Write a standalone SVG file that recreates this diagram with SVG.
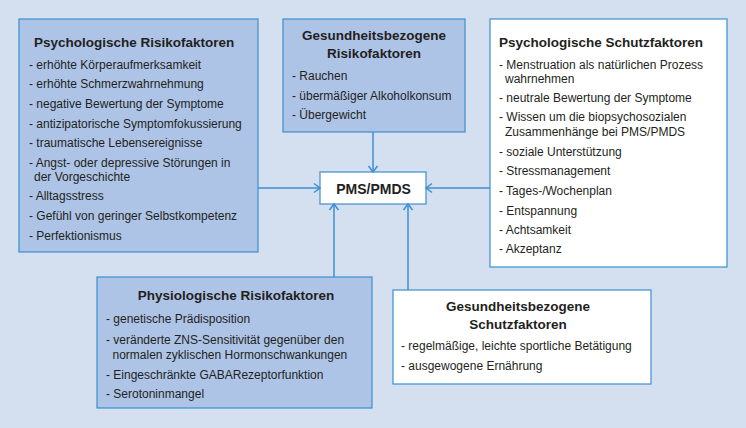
<svg xmlns="http://www.w3.org/2000/svg" width="746" height="428" viewBox="0 0 746 428">
<style>
.bg{fill:#d4dff0}
.blue{fill:#adc4e7;stroke:#3d8fd0;stroke-width:1.2}
.white{fill:#ffffff;stroke:#3d8fd0;stroke-width:1.2}
.t{font-family:"Liberation Sans",Arial,sans-serif;font-size:13.5px;font-weight:bold;fill:#231f20}
.c{text-anchor:middle}
.i{font-family:"Liberation Sans",Arial,sans-serif;font-size:12px;fill:#231f20}
.p{font-family:"Liberation Sans",Arial,sans-serif;font-size:14px;font-weight:bold;fill:#231f20;text-anchor:middle}
.conn line{stroke:#3d8fd0;stroke-width:1.5;fill:none;marker-end:url(#arr)}
</style>
<defs>
<marker id="arr" markerUnits="userSpaceOnUse" markerWidth="12" markerHeight="12" viewBox="-8 -6 10 12" refX="0" refY="0" orient="auto">
<path d="M-6,-4.5 L0,0 L-6,4.5" fill="none" stroke="#3d8fd0" stroke-width="1.5"/>
</marker>
</defs>
<rect class="bg" x="0" y="0" width="746" height="428"/>

<g id="psych-risiko">
<rect class="blue" x="19" y="19" width="239" height="233"/>
<text class="t" x="34" y="47">Psychologische Risikofaktoren</text>
<text class="i" x="29" y="68.5">- erhöhte Körperaufmerksamkeit</text>
<text class="i" x="29" y="88">- erhöhte Schmerzwahrnehmung</text>
<text class="i" x="29" y="108">- negative Bewertung der Symptome</text>
<text class="i" x="29" y="127.5">- antizipatorische Symptomfokussierung</text>
<text class="i" x="29" y="147">- traumatische Lebensereignisse</text>
<text class="i" x="29" y="167">- Angst- oder depressive Störungen in</text>
<text class="i" x="34" y="181">der Vorgeschichte</text>
<text class="i" x="29" y="200">- Alltagsstress</text>
<text class="i" x="29" y="220">- Gefühl von geringer Selbstkompetenz</text>
<text class="i" x="29" y="240">- Perfektionismus</text>
</g>

<g id="gesund-risiko">
<rect class="blue" x="283" y="19" width="182" height="113"/>
<text class="t c" x="374" y="39.5">Gesundheitsbezogene</text>
<text class="t c" x="374" y="57.5">Risikofaktoren</text>
<text class="i" x="292" y="80">- Rauchen</text>
<text class="i" x="292" y="99.5">- übermäßiger Alkoholkonsum</text>
<text class="i" x="292" y="119">- Übergewicht</text>
</g>

<g id="psych-schutz">
<rect class="white" x="490" y="19" width="237" height="248"/>
<text class="t" x="499" y="47">Psychologische Schutzfaktoren</text>
<text class="i" x="499" y="68.5">- Menstruation als natürlichen Prozess</text>
<text class="i" x="505" y="82.5">wahrnehmen</text>
<text class="i" x="499" y="101.5">- neutrale Bewertung der Symptome</text>
<text class="i" x="499" y="121">- Wissen um die biopsychosozialen</text>
<text class="i" x="505" y="135.5">Zusammenhänge bei PMS/PMDS</text>
<text class="i" x="499" y="155.5">- soziale Unterstützung</text>
<text class="i" x="499" y="175">- Stressmanagement</text>
<text class="i" x="499" y="195">- Tages-/Wochenplan</text>
<text class="i" x="499" y="214.5">- Entspannung</text>
<text class="i" x="499" y="233.5">- Achtsamkeit</text>
<text class="i" x="499" y="253">- Akzeptanz</text>
</g>

<g id="pms">
<rect class="white" x="320" y="172" width="106" height="32"/>
<text class="p" x="373.5" y="193.5">PMS/PMDS</text>
</g>

<g id="physio-risiko">
<rect class="blue" x="97" y="277" width="275" height="131"/>
<text class="t c" x="236" y="299.5">Physiologische Risikofaktoren</text>
<text class="i" x="106" y="322.5">- genetische Prädisposition</text>
<text class="i" x="106" y="343.5">- veränderte ZNS-Sensitivität gegenüber den</text>
<text class="i" x="112.5" y="359">normalen zyklischen Hormonschwankungen</text>
<text class="i" x="106" y="378.5">- Eingeschränkte GABARezeptorfunktion</text>
<text class="i" x="106" y="398">- Serotoninmangel</text>
</g>

<g id="gesund-schutz">
<rect class="white" x="393" y="290" width="258" height="94"/>
<text class="t c" x="518" y="311">Gesundheitsbezogene</text>
<text class="t c" x="518" y="329">Schutzfaktoren</text>
<text class="i" x="401" y="350">- regelmäßige, leichte sportliche Betätigung</text>
<text class="i" x="401" y="370">- ausgewogene Ernährung</text>
</g>

<g id="connectors" class="conn">
<line x1="258" y1="188" x2="320" y2="188"/>
<line x1="373" y1="132" x2="373" y2="172"/>
<line x1="490" y1="188" x2="426" y2="188"/>
<line x1="334" y1="277" x2="334" y2="204"/>
<line x1="408" y1="290" x2="408" y2="204"/>
</g>
</svg>
